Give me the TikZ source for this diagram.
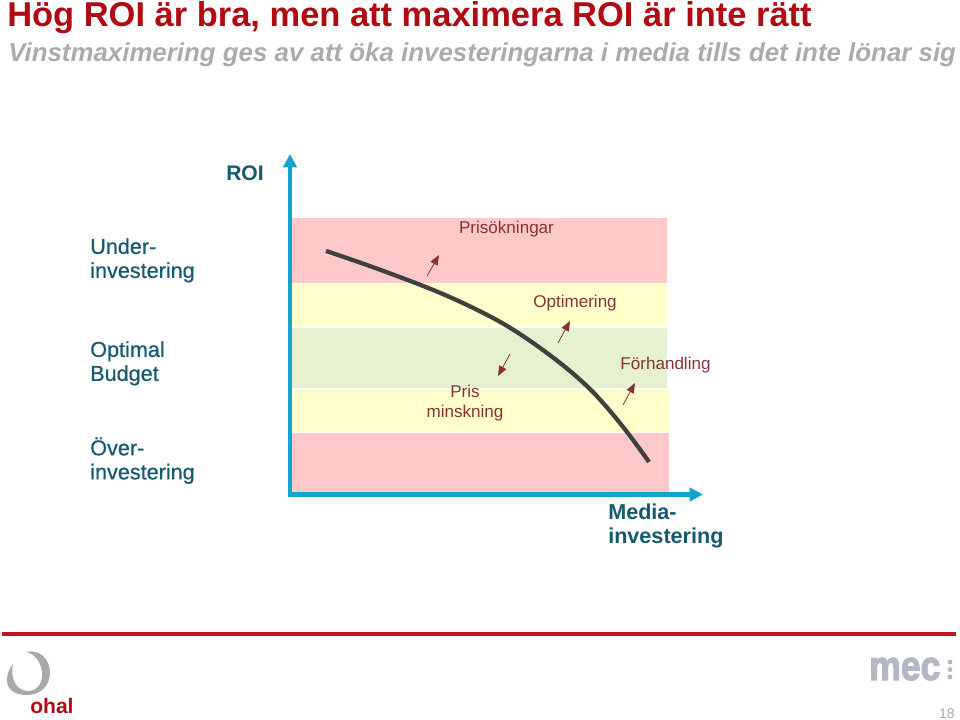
\documentclass[tikz,border=0pt]{standalone}
\usepackage{fontspec}
\setmainfont{Liberation Sans}
\newfontfamily\sidefont[RawFeature={embolden=0.6}]{Liberation Sans}
\newfontfamily\mecfont[RawFeature={embolden=3}]{Liberation Sans Bold}
\usetikzlibrary{arrows.meta}
\definecolor{titlered}{HTML}{B00A12}
\definecolor{rulered}{HTML}{C0141C}
\definecolor{subgray}{HTML}{ABABAB}
\definecolor{axisblue}{HTML}{12A5CF}
\definecolor{labelteal}{HTML}{155A6E}
\definecolor{notebrown}{HTML}{873238}
\definecolor{bandred}{HTML}{FFC9C9}
\definecolor{bandyellow}{HTML}{FFFFCC}
\definecolor{bandgreen}{HTML}{E6F2CF}
\definecolor{curvegray}{HTML}{404040}
\definecolor{logogray}{HTML}{A9A9A9}
\definecolor{mecgray}{HTML}{B4B8C4}
\tikzset{
  axisline/.style={axisblue, line width=3.4pt, line cap=rect, -{Triangle[length=10pt,width=10pt]}},
  notearrow/.style={notebrown, line width=0.6pt, -{Triangle[length=7.5pt,width=6pt]}},
  notelabel/.style={notebrown, font=\fontsize{12.8}{15}\selectfont, align=center, inner sep=0pt},
  sidelabel/.style={labelteal, font=\sidefont\fontsize{16.2}{18}\selectfont, align=left, anchor=north west, inner sep=0pt},
}
\begin{document}
\begin{tikzpicture}[x=0.75pt, y=-0.75pt]
\useasboundingbox (0,0) rectangle (960,720);

% Heading
\node[titlered, anchor=base west, inner sep=0pt, font=\bfseries\fontsize{25.85}{30}\selectfont] (heading) at (7,27) {Hög ROI är bra, men att maximera ROI är inte rätt};
\node[subgray, anchor=base west, inner sep=0pt, font=\bfseries\itshape\fontsize{19.4}{23}\selectfont] (subheading) at (8,62) {Vinstmaximering ges av att öka investeringarna i media tills det inte lönar sig};

% Bands
\fill[bandred] (292,218) rectangle (667,283);
\fill[bandyellow] (292,284) rectangle (667,326);
\fill[bandgreen] (292,328) rectangle (667,388);
\fill[bandyellow] (292,390) rectangle (669,432);
\fill[bandred] (292,433) rectangle (669,492);

% Axes
\coordinate (origin) at (290,494.5);
\coordinate (roitop) at (290,154);
\coordinate (mediaend) at (703,494.5);
\draw[axisline] (origin) -- (roitop);
\draw[axisline] (origin) -- (mediaend);
\node[labelteal, anchor=west, inner sep=0pt, font=\bfseries\fontsize{15.8}{18}\selectfont] (roi) at (226,173) {ROI};
\node[sidelabel, font=\bfseries\fontsize{16.2}{18}\selectfont] (media) at (608,504) {Media-\\investering};

% Side labels
\node[sidelabel] (under) at (90,238) {Under-\\investering};
\node[sidelabel] (optimal) at (90,341) {Optimal\\Budget};
\node[sidelabel] (over) at (90,437) {Över-\\investering};

% Curve
\coordinate (c1) at (326,251);
\coordinate (c2) at (413,282);
\coordinate (c3) at (493,318);
\coordinate (c4) at (547,353);
\coordinate (c5) at (593,392);
\coordinate (c6) at (649,462);
\draw[curvegray, line width=3.2pt] (c1) .. controls (355,260.5) and (384,271) .. (c2)
  .. controls (440,292.3) and (466,303.7) .. (c3)
  .. controls (511,327.5) and (529,339.7) .. (c4)
  .. controls (562,364.1) and (578,377) .. (c5)
  .. controls (612,412) and (630,435) .. (c6);

% Small arrows and their labels
\coordinate (a1) at (427,276);
\coordinate (b1) at (439,255);
\coordinate (a2) at (558,343);
\coordinate (b2) at (570,321);
\coordinate (a3) at (510,354);
\coordinate (b3) at (498,376);
\coordinate (a4) at (623,405);
\coordinate (b4) at (635,383);
\draw[notearrow] (a1) -- (b1);
\draw[notearrow] (a2) -- (b2);
\draw[notearrow] (a3) -- (b3);
\draw[notearrow] (a4) -- (b4);
\node[notelabel] (okning) at (506.5,229) {Prisökningar};
\node[notelabel] (optimering) at (575,303) {Optimering};
\node[notelabel] (minskning) at (465,403.5) {Pris\\minskning};
\node[notelabel] (forhandling) at (665.5,365.5) {Förhandling};

% Footer
\coordinate (ruleleft) at (2,634);
\coordinate (ruleright) at (956,634);
\draw[rulered, line width=2.4pt] (ruleleft) -- (ruleright);

% Logos
\fill[logogray] (26,652) .. controls (40,649) and (50,659) .. (50,673)
  .. controls (50,686) and (40,695) .. (27,695)
  .. controls (15,695) and (7,690) .. (7,680)
  .. controls (7,674) and (9,669) .. (13,664)
  .. controls (10,676) and (15,691) .. (28,691)
  .. controls (38,691) and (43,682) .. (42,672)
  .. controls (41,662) and (35,654) .. (26,652) -- cycle;
\node[titlered, anchor=base west, inner sep=0pt, font=\bfseries\fontsize{15.8}{18}\selectfont] (ohal) at (30,713) {ohal};
\node[mecgray, anchor=base west, inner sep=0pt, xscale=0.86, font=\mecfont\fontsize{31}{34}\selectfont] (mec) at (869,680) {mec};
\foreach \dotname/\doty in {top/662, mid/669.5, low/677}
  \fill[mecgray] (950,\doty) circle (2.4);
\node[subgray, anchor=base east, inner sep=0pt, font=\fontsize{10.5}{12}\selectfont] (pagenum) at (955,718) {18};
\end{tikzpicture}
\end{document}
